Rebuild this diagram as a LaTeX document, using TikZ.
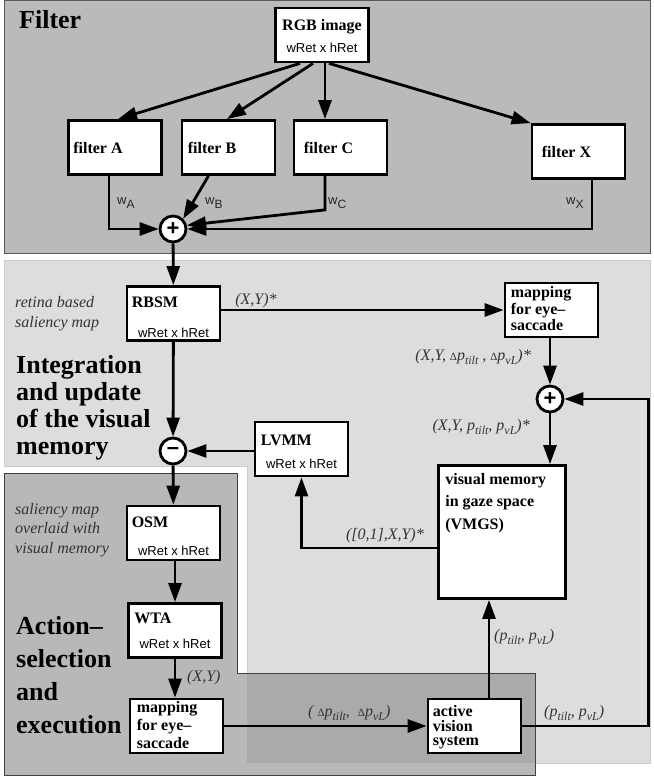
\documentclass[tikz,border=0pt]{standalone}
\usepackage{fontspec}
\setmainfont{Liberation Serif}
\setsansfont{Liberation Sans}
\usepackage{tikz}
\usetikzlibrary{arrows.meta}% Triangle tips on the connectors
\definecolor{filterbg}{gray}{0.73}
\definecolor{memorybg}{gray}{0.865}
\definecolor{actionbg}{gray}{0.72}
\definecolor{overlapbg}{gray}{0.665}
\newcommand{\lowsub}[1]{\raisebox{-4pt}{\fontsize{12}{12}\selectfont #1}}
\newcommand{\smalldelta}{{\fontsize{11}{11}\selectfont\upshape Δ}}
\tikzset{every node/.style={inner sep=0pt},
  blk/.style={draw, line width=2.8pt, fill=white, minimum width=93pt, minimum height=54pt},
  ttl/.style={font=\bfseries\fontsize{16}{16.5}\selectfont, align=left, anchor=north west},
  dim/.style={font=\sffamily\fontsize{13}{14}\selectfont},
  lbl/.style={font=\itshape\fontsize{16}{20}\selectfont, text=black!80},
  big/.style={font=\bfseries\fontsize{26}{27}\selectfont, align=left, anchor=north west},
  sum/.style={circle, draw, line width=2.8pt, fill=white, minimum size=26pt,
    font=\sffamily\bfseries\fontsize{22}{22}\selectfont},
  con/.style={line width=2.8pt, -{Triangle[length=19pt,width=13pt]}},
  wgt/.style={font=\sffamily\fontsize{13}{14}\selectfont, text=black!85, anchor=base west}}

\begin{document}
\begin{tikzpicture}[x=1pt, y=-1pt]
  \useasboundingbox[fill=white] (0,0) rectangle (653,776);
  \begin{scope}[line width=1pt]
    \filldraw[fill=filterbg, draw=black!65] (4,1) rectangle (650,253);
    \filldraw[fill=memorybg, draw=black!20] (4,260) -- (650,260) -- (650,763) -- (247,763)
      -- (247,466) -- (4,466) -- cycle;
    \fill[actionbg] (4,473) -- (237,473) -- (237,673) -- (535,673) -- (535,775) -- (4,775) -- cycle;
    \fill[overlapbg] (247,673) rectangle (535,763);
    \draw[black!75] (4,473) -- (237,473) -- (237,673) -- (535,673) -- (535,775) -- (4,775) -- cycle;
  \end{scope}

  % section titles and notes
  \node[big, anchor=base west] (filtertitle) at (19,29) {Filter};
  \node[big] (integtitle) at (16,355) {Integration\\and update\\of the visual\\memory};
  \node[big, font=\bfseries\fontsize{26}{33}\selectfont] (actiontitle) at (16,616)
    {Action–\\selection\\and\\execution};
  \node[lbl, align=left, anchor=north west] (retina) at (15,296) {retina based\\saliency map};
  \node[lbl, align=left, anchor=north west, font=\itshape\fontsize{16}{19.5}\selectfont]
    (overlaid) at (15,503) {saliency map\\overlaid with\\visual memory};

  % filter stage
  \node[blk] (rgb) at (322,35) {};
  \node[ttl, anchor=north] (rgbT) at ([yshift=-13pt]rgb.north) {RGB image};
  \node[dim] (rgbD) at ([yshift=16pt]rgb.south) {wRet x hRet};
  \node[blk] (fA) at (115,147.5) {};
  \node[blk] (fB) at (228.5,147.5) {};
  \node[blk] (fC) at (340.5,147.5) {};
  \node[blk] (fX) at (578.5,151.5) {};
  \node[ttl, anchor=west] (fAT) at ([xshift=6pt]fA.west) {filter A};
  \node[ttl, anchor=west] (fBT) at ([xshift=7pt]fB.west) {filter B};
  \node[ttl, anchor=west] (fCT) at ([xshift=11pt]fC.west) {filter C};
  \node[ttl, anchor=west] (fXT) at ([xshift=11pt]fX.west) {filter X};
  \node[sum] (plus1) at (173,229) {+};
  \draw[con] ([xshift=-22pt]rgb.south) -- ([xshift=3pt]fA.north);
  \draw[con] ([xshift=-9pt]rgb.south) -- ([xshift=-1.5pt]fB.north);
  \draw[con] ([xshift=3pt]rgb.south) -- ([xshift=-15.5pt]fC.north);
  \draw[con] ([xshift=7pt]rgb.south) -- (fX.north west);
  \draw[con] ([xshift=-6pt]fA.south) |- (plus1);
  \draw[con] ([xshift=-20pt]fB.south) -- (plus1.north east);
  \draw[con] ([xshift=-15.5pt]fC.south) -- ++(0,34) -- (plus1.15);
  \draw[con] ([xshift=13.5pt]fX.south) |- (plus1);
  \node[wgt] (wA) at (117,204) {w\lowsub{A}};
  \node[wgt] (wB) at (205,204) {w\lowsub{B}};
  \node[wgt] (wC) at (328,204) {w\lowsub{C}};
  \node[wgt] (wX) at (566,204) {w\lowsub{X}};

  % integration and update of the visual memory
  \node[blk] (rbsm) at (173.5,313.5) {};
  \node[ttl] (rbsmT) at ([shift={(6pt,-12pt)}]rbsm.north west) {RBSM};
  \node[dim] (rbsmD) at ([yshift=9pt]rbsm.south) {wRet x hRet};
  \node[blk] (map1) at (551.5,310) {};
  \node[ttl] (map1T) at ([shift={(7pt,-5pt)}]map1.north west) {mapping\\for eye–\\saccade};
  \node[sum] (plus2) at (550,399) {+};
  \node[sum] (minus) at (173,451) {–};
  \node[blk] (lvmm) at (301.5,449) {};
  \node[ttl] (lvmmT) at ([shift={(7pt,-14pt)}]lvmm.north west) {LVMM};
  \node[dim] (lvmmD) at ([yshift=14pt]lvmm.south) {wRet x hRet};
  \node[blk, minimum width=127pt, minimum height=133pt] (vmgs) at (502,532) {};
  \node[ttl, font=\bfseries\fontsize{16}{22.5}\selectfont] (vmgsT)
    at ([shift={(8pt,-9pt)}]vmgs.north west) {visual memory\\in gaze space\\(VMGS)};
  \draw[con] (plus1) -- (rbsm);
  \draw[con] (rbsm.east |- map1.west) -- (map1.west);
  \draw[con] ([xshift=-1.5pt]map1.south) -- (plus2);
  \draw[con] (plus2) -- ([xshift=48pt]vmgs.north);
  \draw[con] (rbsm) -- (minus);
  \draw[con] (lvmm.west |- minus) -- (minus);
  \draw[con] ([yshift=-16pt]vmgs.west) -| (lvmm.south);
  \node[lbl] (lxy) at (256,301) {(X,Y)*};
  \node[lbl, anchor=base east] (ldelta) at (531,360)
    {(X,Y, \smalldelta p\lowsub{tilt} , \smalldelta p\lowsub{vL})*};
  \node[lbl, anchor=base east] (lgaze) at (530,430) {(X,Y, p\lowsub{tilt}, p\lowsub{vL})*};
  \node[lbl, anchor=base east] (lmask) at (424,539) {([0,1],X,Y)*};

  % action selection and execution
  \node[blk] (osm) at (173.5,533) {};
  \node[ttl] (osmT) at ([shift={(6pt,-12pt)}]osm.north west) {OSM};
  \node[dim] (osmD) at ([yshift=11pt]osm.south) {wRet x hRet};
  \node[blk] (wta) at (175,630.5) {};
  \node[ttl] (wtaT) at ([shift={(7pt,-11pt)}]wta.north west) {WTA};
  \node[dim] (wtaD) at ([yshift=15pt]wta.south) {wRet x hRet};
  \node[blk] (map2) at (176.5,726) {};
  \node[ttl, font=\bfseries\fontsize{16}{18}\selectfont] (map2T)
    at ([shift={(8pt,-4pt)}]map2.north west) {mapping\\for eye–\\saccade};
  \node[blk] (avs) at (474.5,726) {};
  \node[ttl, font=\bfseries\fontsize{16}{14.5}\selectfont] (avsT)
    at ([shift={(6pt,-8pt)}]avs.north west) {active\\vision\\system};
  \draw[con] (minus) -- (osm);
  \draw[con] ([xshift=1.5pt]osm.south) -- (wta.north);
  \draw[con] (wta.south) -- ([xshift=-1.5pt]map2.north);
  \draw[con] (map2) -- (avs);
  \draw[con] ([xshift=14.5pt]avs.north) -- ([xshift=-13pt]vmgs.south);
  \draw[con] (avs.east) -- ++(126,0) |- (plus2);
  \node[lbl, anchor=base west] (lxy2) at (187,681) {(X,Y)};
  \node[lbl, anchor=base west] (lstep) at (308,716)
    {( \smalldelta p\lowsub{tilt},\ \ \smalldelta p\lowsub{vL})};
  \node[lbl, anchor=base west] (lpos) at (494,640) {(p\lowsub{tilt}, p\lowsub{vL})};
  \node[lbl, anchor=base west] (lpos2) at (544,716) {(p\lowsub{tilt}, p\lowsub{vL})};
\end{tikzpicture}
\end{document}
